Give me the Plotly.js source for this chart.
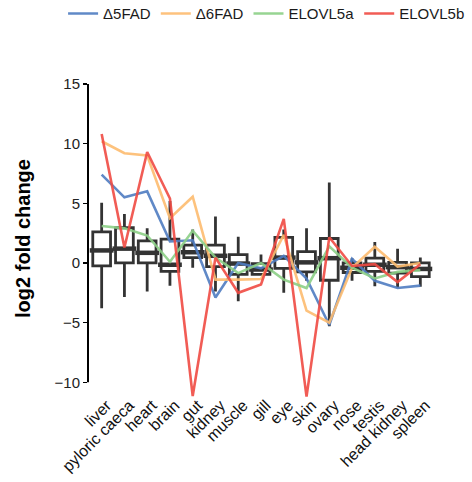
<!DOCTYPE html>
<html><head><meta charset="utf-8">
<script src="https://cdn.plot.ly/plotly-3.0.1.min.js"></script>
<style>html,body{margin:0;padding:0;background:#fff}</style>
</head><body><div id="chart" style="width:472px;height:482px"></div>
<script>
const tissues = ['liver','pyloric caeca','heart','brain','gut','kidney','muscle','gill','eye','skin','ovary','nose','testis','head kidney','spleen'];
const d5fad   = [7.4, 5.5, 6.0, 1.8, 1.9, -2.9, 0.0, -0.45, 0.6, -1.3, -5.2, 0.35, -1.5, -2.1, -1.9];
const d6fad   = [10.2, 9.2, 9.0, 3.75, 5.55, -1.4, -1.4, -1.35, 2.35, -4.0, -5.0, -0.4, 1.35, -0.3, 0.0];
const elovl5a = [3.1, 2.9, 2.3, 0.1, 2.7, 0.45, -0.85, 0.0, -1.4, -2.1, 1.4, -0.4, -1.3, -0.75, -0.6];
const elovl5b = [10.8, 1.3, 9.3, 5.4, -11.15, 0.45, -2.5, -1.8, 3.7, -11.2, 2.15, -0.25, -0.1, -1.6, -0.1];

const boxLower  = [-3.8, -2.85, -2.4, -1.9, -0.4, -2.4, -3.2, -1.05, -2.5, -1.5, -5.3, -1.5, -1.95, -2.05, -2.0];
const boxQ1     = [-0.25, 0.0, 0.0, -0.7, 0.45, -0.3, -0.95, -0.95, -0.45, -0.75, -1.45, -0.8, -0.7, -0.85, -1.15];
const boxMedian = [1.05, 1.2, 0.85, -0.15, 0.9, 0.6, -0.05, -0.55, 0.45, 0.05, 0.4, -0.4, -0.15, -0.35, -0.5];
const boxQ3     = [2.6, 2.95, 1.85, 2.0, 1.5, 1.5, 0.7, -0.05, 2.15, 0.95, 2.05, 0.0, 0.4, 0.05, 0.0];
const boxUpper  = [5.05, 4.1, 2.9, 5.2, 2.8, 3.9, 2.2, 0.7, 2.8, 2.9, 6.75, 0.4, 1.75, 1.2, 0.45];

const seriesNames = ['Δ5FAD', 'Δ6FAD', 'ELOVL5a', 'ELOVL5b'];
const seriesVals = [d5fad, d6fad, elovl5a, elovl5b];
const colors = ['#4f7cc1', '#fdbb6f', '#8ccf86', '#ef4a43'];

const traces = [];
traces.push({
  type: 'box', x: tissues, q1: boxQ1, median: boxMedian, q3: boxQ3,
  lowerfence: boxLower, upperfence: boxUpper,
  fillcolor: '#ffffff', line: {color: '#333333', width: 2.8},
  whiskerwidth: 0, width: 0.78, boxpoints: false, showlegend: false, hoverinfo: 'skip'
});
traces.push({
  type: 'scatter', mode: 'markers', x: tissues, y: boxMedian, showlegend: false, hoverinfo: 'skip',
  marker: {symbol: 'line-ew', size: 17, line: {color: '#333333', width: 4.5}}
});
seriesNames.forEach((n, i) => {
  traces.push({
    type: 'scatter', mode: 'lines', name: n, x: tissues, y: seriesVals[i],
    line: {color: colors[i], width: 2.6}, opacity: 0.9
  });
});

const layout = {
  width: 472, height: 482,
  margin: {l: 88, r: 38, t: 78, b: 83, autoexpand: false},
  paper_bgcolor: '#fff', plot_bgcolor: '#fff',
  font: {family: 'Liberation Sans, Arial, sans-serif', size: 12, color: '#1a1a1a'},
  showlegend: true,
  legend: {orientation: 'h', x: -0.072, xanchor: 'left', y: 1.2, yanchor: 'middle',
           font: {size: 15, color: '#1a1a1a'}, itemwidth: 30, tracegroupgap: 0},
  xaxis: {type: 'category', range: [-0.6, 14.6], tickangle: -45, showline: false,
          ticks: '', showgrid: false, zeroline: false, tickfont: {size: 16, color: '#111'},
          ticklabelstandoff: -7, ticklabelshift: 5},
  yaxis: {range: [-11.4, 15.5], tickvals: [-10, -5, 0, 5, 10, 15], ticks: 'outside', ticklen: 4,
          tickwidth: 1.5, tickcolor: '#000', showline: false, showgrid: false, zeroline: false,
          tickfont: {size: 15, color: '#222'},
          title: {text: 'log2 fold change', font: {size: 20, weight: 'bold', color: '#000'}, standoff: 18}},
  shapes: [{type: 'line', xref: 'paper', yref: 'y', x0: 0, x1: 0, y0: -10, y1: 15,
            line: {color: '#000', width: 2}}]
};
Plotly.newPlot('chart', traces, layout, {displayModeBar: false, staticPlot: true});
</script></body></html>
